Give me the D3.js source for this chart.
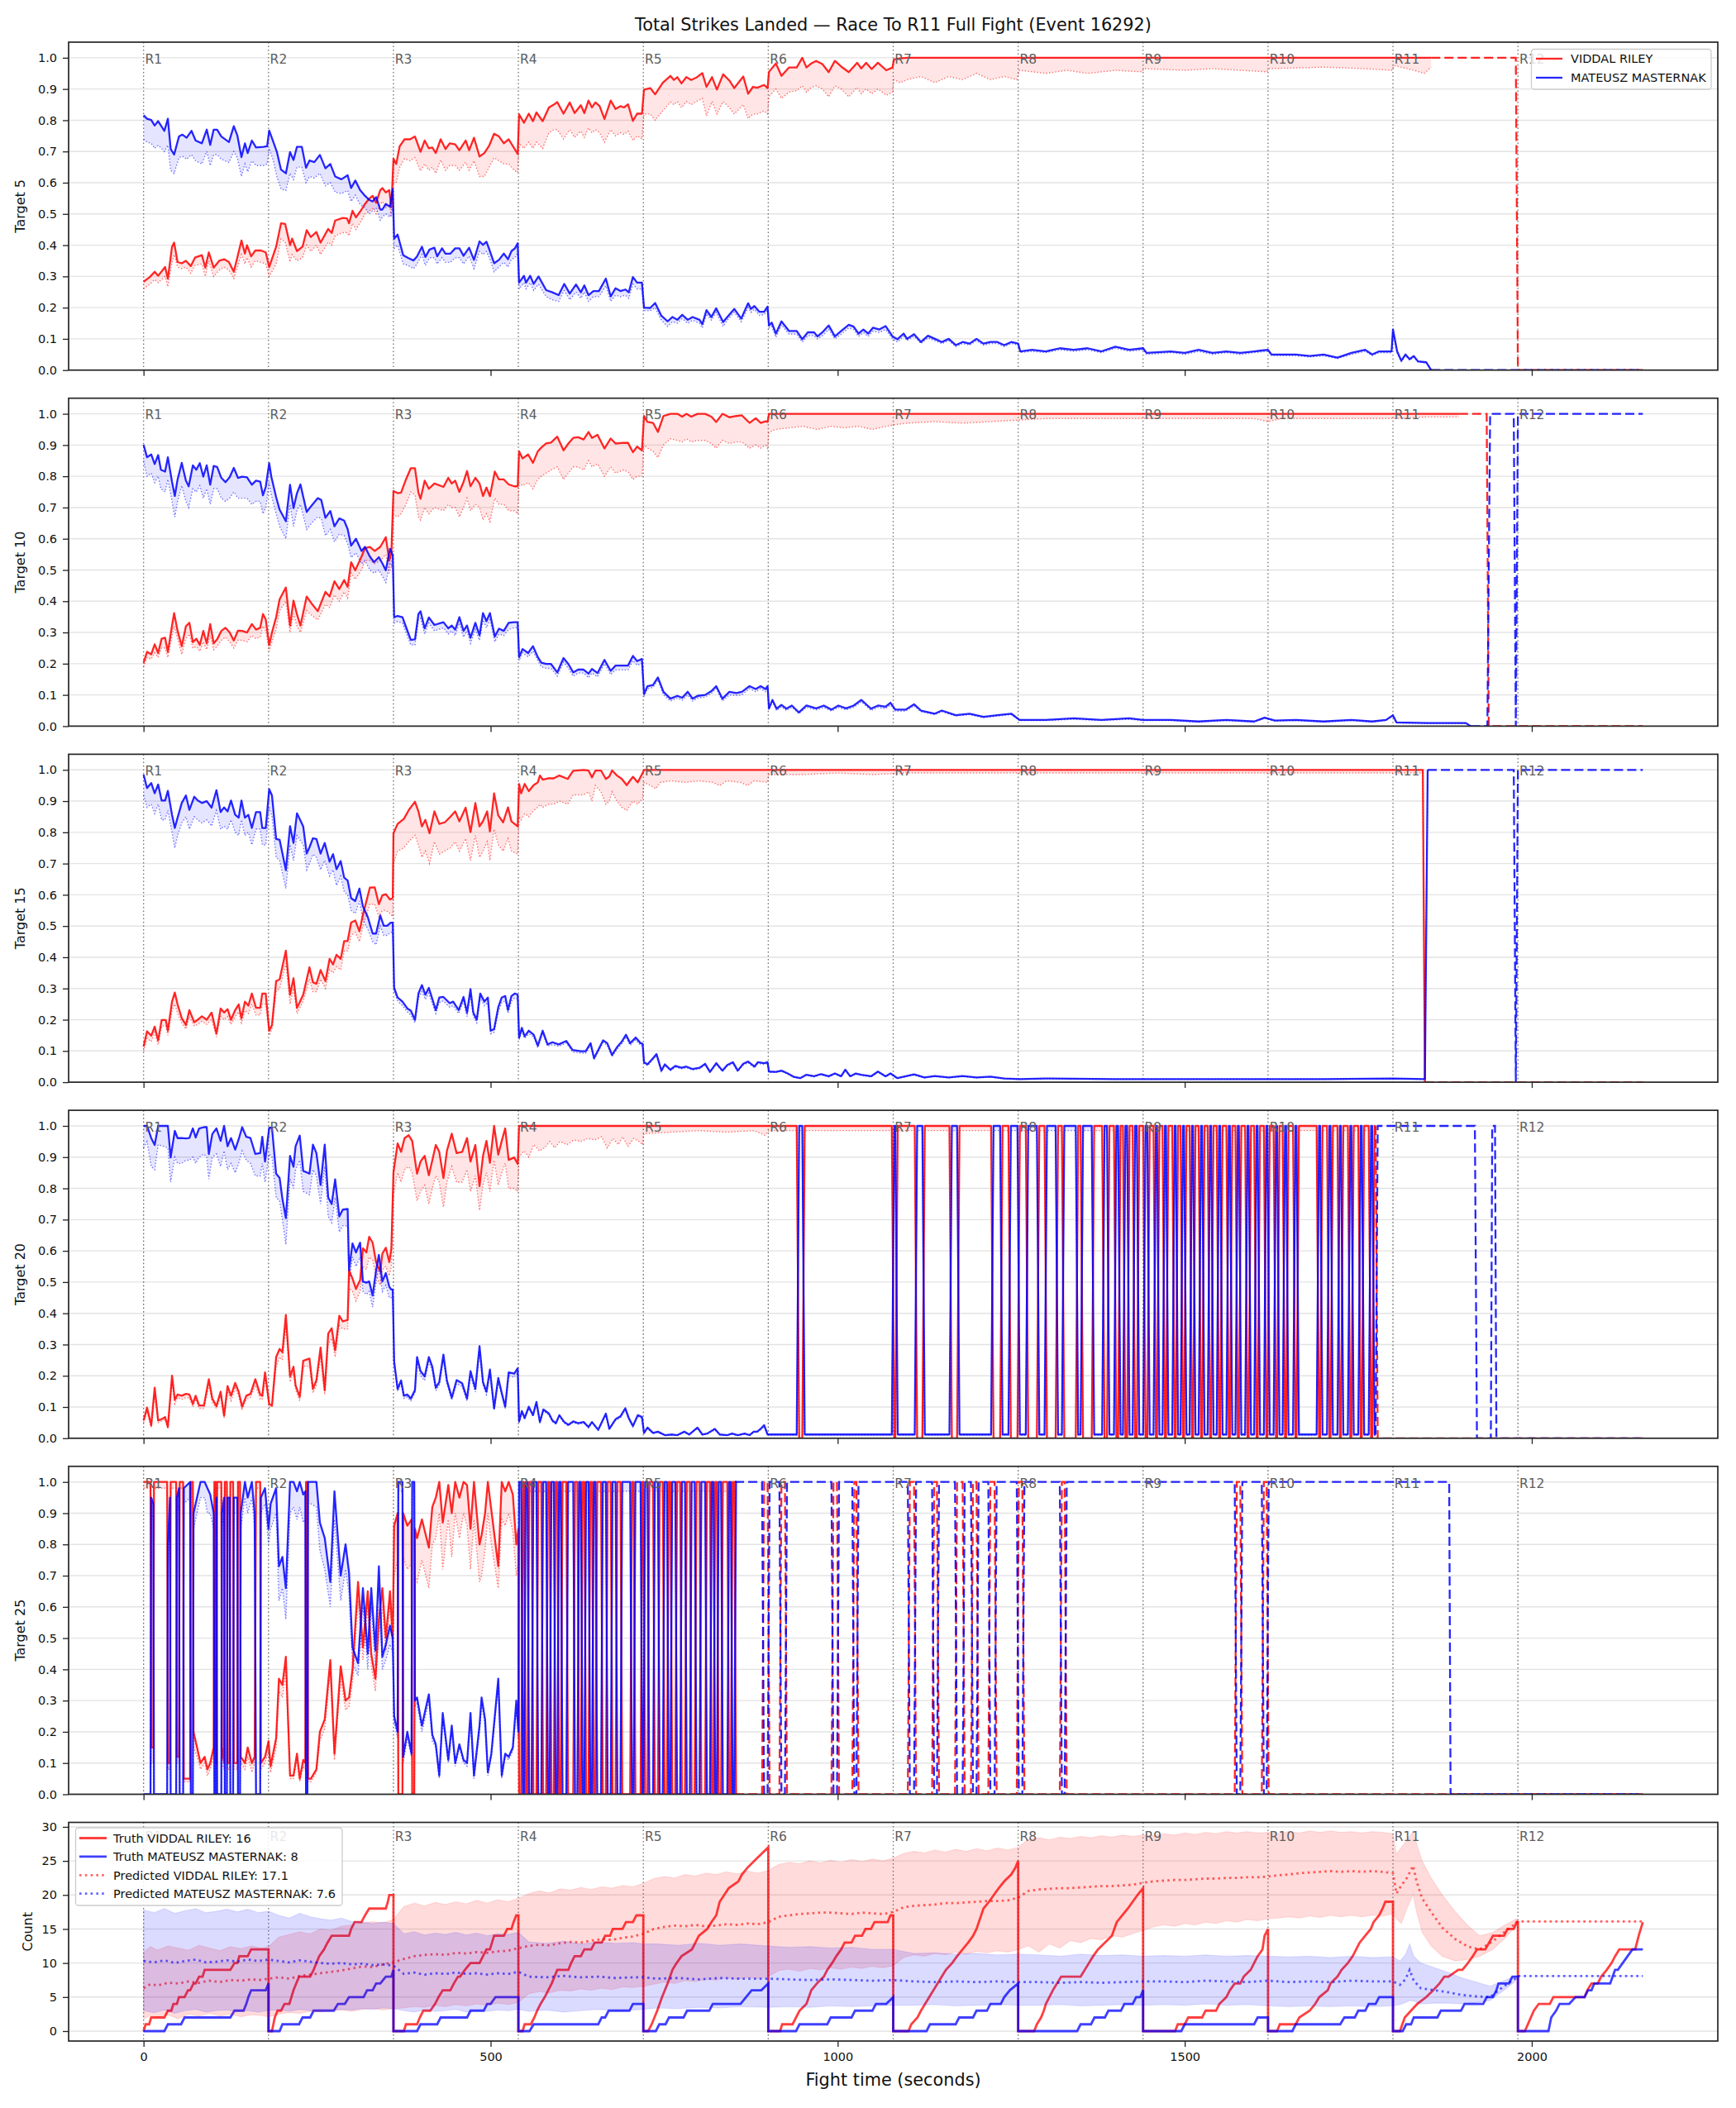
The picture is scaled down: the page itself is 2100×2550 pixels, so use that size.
<!DOCTYPE html>
<html>
<head>
<meta charset="utf-8">
<script src="https://cdn.jsdelivr.net/npm/d3@7/dist/d3.min.js"></script>
<style>
html,body{margin:0;padding:0;background:#fff;}
svg text{font-family:"DejaVu Sans",Verdana,sans-serif;}
</style>
</head>
<body>
<svg id="chart" width="2100" height="2550"></svg>
<script>
// ================= DATA =================
const chartTitle = "Total Strikes Landed — Race To R11 Full Fight (Event 16292)";
const fighters = ["VIDDAL RILEY", "MATEUSZ MASTERNAK"];
const targetLabels = ["Target 5", "Target 10", "Target 15", "Target 20", "Target 25"];
const roundStarts = [0,180,360,540,720,900,1080,1260,1440,1620,1800,1980];
const roundLabels = ["R1","R2","R3","R4","R5","R6","R7","R8","R9","R10","R11","R12"];
const xTicks = [0,500,1000,1500,2000];
const probTicks = [0,0.1,0.2,0.3,0.4,0.5,0.6,0.7,0.8,0.9,1.0];
const countTicks = [0,5,10,15,20,25,30];
const legendCount = ["Truth VIDDAL RILEY: 16","Truth MATEUSZ MASTERNAK: 8","Predicted VIDDAL RILEY: 17.1","Predicted MATEUSZ MASTERNAK: 7.6"];

// Probability series: [time, solid value, dotted value]
const p1Red = [[0,.283,.26],[9,.298,.275],[16,.315,.29],[21,.302,.28],[31,.33,.3],[35,.293,.267],[41,.395,.346],[44,.408,.37],[49,.346,.33],[55,.342,.325],[61,.35,.33],[68,.333,.31],[74,.36,.335],[84,.368,.34],[89,.328,.3],[94,.377,.35],[101,.328,.3],[109,.35,.32],[116,.355,.33],[123,.346,.32],[130,.315,.293],[141,.415,.37],[146,.373,.34],[149,.4,.36],[155,.364,.33],[161,.383,.35],[169,.383,.345],[176,.377,.34],[181,.33,.3],
[191,.395,.34],[198,.47,.42],[204,.468,.41],[211,.4,.346],[214,.421,.37],[221,.381,.35],[229,.395,.36],[235,.448,.4],[241,.426,.38],[249,.442,.4],[255,.408,.37],[266,.452,.41],[271,.439,.4],[276,.479,.43],[287,.487,.44],[293,.486,.44],[296,.47,.43],[301,.51,.47],[306,.489,.45],[314,.514,.48],[319,.532,.5],[325,.549,.51],[330,.558,.517],[335,.536,.5],[341,.576,.53],[344,.583,.54],[349,.569,.52],[354,.576,.53],[357,.521,.49],
[360,.677,.6],[364,.66,.6],[369,.717,.65],[376,.739,.677],[384,.739,.67],[391,.748,.68],[399,.699,.638],[405,.735,.66],[411,.71,.64],[416,.713,.65],[421,.695,.63],[428,.739,.673],[435,.708,.64],[441,.726,.655],[449,.723,.655],[455,.704,.64],[464,.735,.665],[469,.704,.64],[476,.744,.67],[484,.684,.62],[491,.695,.62],[498,.719,.65],[505,.757,.68],[512,.748,.67],[519,.726,.66],[526,.739,.66],[534,.71,.64],[539,.692,.633],
[541,.819,.726],[548,.792,.71],[555,.821,.73],[561,.797,.71],[566,.825,.73],[575,.797,.71],[584,.841,.76],[591,.85,.77],[596,.858,.77],[605,.821,.74],[614,.857,.77],[621,.823,.745],[630,.848,.765],[635,.823,.745],[641,.863,.775],[646,.841,.76],[651,.857,.77],[657,.845,.76],[664,.804,.73],[673,.863,.77],[680,.836,.75],[687,.845,.76],[692,.841,.755],[698,.851,.765],[705,.798,.735],[711,.821,.75],[718,.821,.74],
[721,.898,.82],[730,.903,.82],[737,.883,.8],[748,.92,.83],[759,.942,.858],[764,.929,.85],[769,.938,.86],[775,.918,.84],[782,.938,.86],[789,.929,.85],[796,.936,.86],[805,.951,.87],[811,.907,.814],[819,.938,.86],[826,.898,.82],[835,.947,.86],[844,.927,.84],[851,.903,.82],[864,.94,.85],[871,.885,.805],[878,.907,.82],[884,.904,.82],[894,.913,.83],[899,.903,.82],
[901,.955,.876],[911,.982,.9],[919,.942,.87],[930,.969,.89],[941,.969,.895],[949,1,.91],[955,.969,.89],[962,.982,.905],[969,.99,.91],[978,.98,.9],[987,.954,.875],[996,.99,.91],[1005,.972,.9],[1016,.954,.875],[1028,.984,.905],[1034,.966,.885],[1041,.984,.9],[1049,.964,.885],[1058,.984,.9],[1070,.96,.88],[1079,.969,.89],
[1081,.995,.93],[1090,.998,.92],[1100,1,.93],[1120,1,.94],[1140,1,.92],[1160,1,.94],[1180,1,.93],[1200,1,.95],[1220,1,.93],[1240,1,.94],[1258,1,.93],[1262,1,.96],[1300,1,.95],[1330,1,.96],[1360,1,.95],[1400,1,.96],[1438,1,.955],[1442,1,.965],[1500,1,.96],[1540,1,.965],[1580,1,.96],[1618,1,.955],[1622,1,.965],[1700,1,.97],[1760,1,.965],[1798,1,.96],[1802,1,.975],[1830,1,.96],[1845,1,.95],[1855,1,.97]];
const p1Blue = [[0,.816,.739],[5,.805,.73],[11,.801,.726],[16,.783,.71],[21,.797,.72],[30,.766,.7],[35,.805,.72],[39,.708,.64],[44,.69,.63],[51,.748,.68],[56,.754,.685],[62,.744,.675],[69,.766,.69],[75,.735,.67],[84,.726,.66],[91,.77,.7],[96,.721,.655],[101,.77,.69],[106,.77,.69],[112,.748,.675],[123,.73,.665],[130,.781,.7],[135,.752,.68],[141,.682,.62],[146,.726,.66],[150,.695,.635],[156,.735,.67],[162,.713,.655],[173,.715,.655],[178,.717,.66],
[181,.767,.71],[187,.73,.67],[192,.699,.62],[198,.642,.58],[205,.63,.575],[211,.698,.63],[216,.673,.61],[221,.715,.65],[228,.715,.65],[234,.648,.6],[239,.671,.62],[246,.666,.615],[254,.689,.63],[262,.646,.59],[269,.66,.6],[276,.62,.57],[285,.611,.565],[294,.624,.575],[299,.583,.54],[305,.607,.56],[312,.576,.53],[319,.558,.52],[325,.545,.5],[330,.54,.51],[335,.554,.52],[341,.514,.48],[344,.514,.49],[349,.532,.5],[355,.523,.49],[359,.58,.52],
[361,.421,.39],[366,.434,.4],[374,.368,.34],[381,.359,.335],[389,.351,.325],[394,.364,.34],[401,.395,.37],[406,.362,.335],[412,.386,.36],[419,.392,.36],[423,.364,.34],[430,.39,.36],[435,.373,.345],[442,.373,.345],[449,.39,.36],[455,.39,.36],[461,.366,.34],[469,.392,.365],[476,.353,.325],[484,.412,.38],[489,.401,.37],[494,.411,.38],[499,.381,.355],[505,.342,.315],[512,.353,.33],[519,.373,.345],[525,.355,.33],[530,.381,.355],[535,.39,.36],[539,.406,.375],
[541,.28,.26],[548,.302,.28],[551,.28,.26],[557,.302,.28],[562,.276,.255],[569,.3,.275],[580,.256,.235],[589,.249,.225],[598,.24,.22],[606,.276,.255],[614,.245,.225],[623,.274,.25],[630,.249,.23],[635,.271,.25],[641,.24,.22],[648,.253,.235],[656,.253,.235],[666,.293,.27],[673,.236,.22],[680,.262,.24],[687,.253,.235],[694,.258,.24],[699,.249,.23],[705,.298,.275],[711,.28,.26],[718,.28,.26],
[721,.2,.19],[730,.199,.19],[737,.215,.2],[746,.174,.16],[755,.156,.14],[762,.17,.155],[769,.161,.15],[776,.177,.165],[784,.161,.15],[791,.17,.16],[801,.161,.15],[805,.147,.135],[811,.192,.18],[818,.17,.16],[825,.198,.185],[835,.154,.14],[841,.17,.16],[851,.196,.185],[861,.165,.155],[871,.214,.2],[875,.196,.185],[880,.205,.195],[887,.187,.175],[894,.187,.178],[899,.203,.19],
[901,.143,.135],[905,.152,.14],[911,.117,.105],[919,.156,.145],[930,.125,.115],[941,.125,.115],[949,.099,.09],[957,.121,.11],[966,.121,.11],[971,.108,.1],[978,.121,.11],[987,.143,.13],[996,.108,.1],[1005,.125,.115],[1016,.145,.135],[1023,.139,.13],[1030,.117,.108],[1037,.13,.12],[1044,.117,.108],[1051,.136,.125],[1060,.13,.12],[1069,.141,.13],[1079,.108,.1],[1086,.099,.09],[1095,.117,.108],
[1100,.1,.095],[1110,.115,.108],[1120,.09,.085],[1130,.11,.103],[1140,.1,.094],[1150,.09,.085],[1160,.1,.094],[1170,.08,.075],[1180,.09,.085],[1190,.085,.08],[1200,.1,.094],[1210,.085,.08],[1220,.09,.085],[1230,.09,.085],[1240,.08,.075],[1250,.09,.085],[1260,.085,.08],[1263,.06,.056],[1280,.065,.06],[1300,.06,.056],[1320,.07,.065],[1340,.065,.06],[1360,.07,.065],[1380,.06,.056],[1400,.075,.07],[1420,.065,.06],[1440,.07,.065],[1445,.055,.05],[1480,.06,.056],[1500,.055,.05],[1520,.065,.06],[1540,.055,.05],[1560,.06,.056],[1580,.055,.05],[1600,.06,.056],[1620,.065,.06],[1625,.05,.046],[1660,.05,.046],[1680,.045,.042],[1700,.05,.046],[1720,.04,.037],[1740,.055,.05],[1760,.065,.06],[1770,.05,.046],[1780,.06,.056],[1798,.06,.055],[1800,.13,.12],[1806,.06,.055],[1812,.03,.028],[1818,.05,.046],[1824,.035,.032],[1830,.045,.042],[1836,.028,.026],[1848,.025,.023],[1855,0,0]];
const p1RedDash = [[1855,1],[1977,1],[1980,0],[2160,0]];
const p1BlueDash = [[1855,0],[2160,0]];

const p2Red = [[0,.203,.19],[5,.238,.22],[11,.23,.215],[16,.262,.235],[21,.234,.22],[26,.28,.25],[31,.283,.25],[35,.238,.22],[41,.322,.29],[44,.362,.32],[49,.305,.28],[55,.256,.23],[61,.32,.28],[66,.331,.295],[71,.269,.25],[76,.28,.255],[81,.26,.24],[86,.305,.27],[91,.265,.245],[96,.327,.29],[101,.265,.245],[106,.278,.255],[112,.305,.275],[118,.315,.285],[124,.3,.27],[130,.274,.25],[136,.306,.275],[142,.305,.275],[149,.3,.27],[156,.327,.29],[162,.309,.28],[168,.315,.285],[172,.359,.32],[176,.342,.305],[181,.26,.24],
[185,.3,.27],[191,.349,.31],[196,.406,.37],[205,.444,.4],[211,.322,.3],[216,.402,.36],[221,.358,.32],[226,.322,.3],[235,.415,.37],[242,.393,.355],[251,.368,.34],[262,.43,.39],[268,.415,.38],[275,.464,.42],[282,.439,.4],[289,.468,.43],[294,.446,.41],[299,.525,.49],[305,.499,.47],[314,.543,.5],[319,.57,.53],[326,.574,.53],[333,.561,.52],[341,.574,.53],[349,.605,.55],[354,.53,.49],[357,.556,.51],
[360,.753,.676],[366,.746,.67],[371,.748,.68],[378,.79,.71],[385,.826,.75],[391,.826,.74],[396,.748,.67],[399,.728,.66],[405,.786,.7],[411,.76,.68],[419,.777,.7],[432,.766,.69],[439,.795,.71],[444,.777,.7],[449,.786,.7],[455,.75,.67],[461,.782,.7],[466,.817,.73],[471,.768,.69],[478,.795,.71],[484,.777,.7],[489,.737,.66],[494,.764,.68],[499,.736,.655],[506,.815,.73],[512,.79,.71],[519,.79,.71],[526,.774,.69],[534,.768,.69],[539,.768,.68],
[541,.88,.78],[546,.857,.77],[554,.87,.78],[561,.843,.76],[568,.88,.79],[573,.892,.8],[580,.905,.81],[587,.908,.82],[596,.927,.83],[605,.883,.79],[612,.905,.81],[619,.923,.83],[626,.925,.83],[634,.918,.82],[641,.942,.85],[646,.923,.83],[654,.933,.84],[664,.889,.8],[673,.921,.83],[680,.905,.81],[691,.907,.82],[698,.907,.815],[705,.877,.79],[711,.895,.8],[718,.883,.8],
[721,.993,.9],[726,.974,.89],[734,.971,.88],[741,.942,.86],[749,.993,.9],[759,1,.92],[769,1,.915],[776,.991,.91],[782,1,.92],[789,.991,.91],[798,1,.915],[809,1,.915],[818,.991,.905],[825,.974,.89],[834,1,.915],[844,.989,.905],[854,.993,.91],[862,.995,.91],[873,.971,.89],[882,.986,.9],[889,.971,.89],[896,.976,.9],[899,.974,.89],
[901,1,.94],[910,1,.95],[930,1,.955],[950,1,.96],[970,1,.95],[990,1,.96],[1010,1,.955],[1030,1,.96],[1050,1,.95],[1070,1,.96],[1082,1,.965],[1100,1,.97],[1140,1,.975],[1180,1,.97],[1220,1,.975],[1262,1,.98],[1300,1,.985],[1400,1,.985],[1500,1,.985],[1600,1,.985],[1620,1,.975],[1640,1,.985],[1700,1,.985],[1800,1,.985],[1850,1,.99],[1895,1,.99]];
const p2Blue = [[0,.901,.85],[5,.861,.8],[11,.87,.81],[16,.839,.78],[21,.868,.8],[25,.821,.76],[31,.815,.75],[35,.861,.79],[41,.782,.72],[45,.737,.67],[49,.79,.72],[55,.843,.77],[61,.786,.72],[65,.768,.7],[71,.835,.76],[76,.821,.75],[81,.842,.77],[86,.799,.73],[91,.835,.76],[96,.773,.71],[101,.833,.76],[106,.83,.76],[112,.795,.73],[118,.781,.72],[124,.797,.73],[130,.827,.75],[136,.795,.73],[142,.799,.73],[149,.797,.73],[156,.773,.71],[162,.786,.72],[168,.783,.72],[172,.739,.68],[176,.766,.7],[181,.842,.78],
[184,.799,.74],[191,.733,.68],[196,.693,.64],[205,.656,.6],[211,.773,.71],[216,.698,.64],[221,.746,.69],[226,.774,.71],[235,.686,.63],[242,.706,.65],[251,.73,.67],[256,.724,.665],[262,.667,.61],[269,.689,.63],[275,.64,.59],[282,.665,.615],[289,.658,.61],[294,.631,.585],[299,.578,.54],[306,.6,.555],[314,.561,.52],[319,.574,.53],[326,.543,.5],[332,.525,.49],[339,.541,.5],[344,.521,.48],[349,.499,.46],[355,.568,.52],[359,.548,.51],
[361,.349,.33],[366,.353,.335],[373,.349,.33],[378,.318,.3],[385,.276,.26],[391,.278,.26],[396,.359,.34],[399,.368,.345],[405,.313,.295],[411,.348,.33],[419,.324,.305],[432,.333,.315],[439,.313,.295],[444,.322,.305],[449,.309,.29],[455,.349,.33],[461,.305,.285],[466,.322,.305],[471,.283,.265],[478,.331,.31],[484,.291,.275],[489,.362,.34],[494,.336,.315],[499,.362,.34],[506,.287,.27],[512,.312,.295],[519,.305,.29],[526,.331,.31],[534,.333,.315],[539,.333,.315],
[541,.221,.21],[546,.247,.235],[554,.234,.222],[561,.256,.24],[568,.221,.21],[573,.203,.19],[580,.199,.185],[587,.199,.185],[596,.172,.16],[605,.218,.205],[612,.199,.185],[619,.172,.16],[626,.181,.17],[634,.181,.17],[641,.168,.155],[646,.183,.17],[654,.17,.158],[664,.212,.2],[673,.177,.165],[680,.194,.18],[691,.194,.18],[698,.194,.18],[705,.225,.21],[711,.208,.195],[718,.215,.2],
[721,.103,.095],[726,.128,.12],[734,.132,.124],[741,.156,.148],[749,.11,.1],[759,.088,.08],[769,.097,.09],[776,.091,.083],[784,.11,.1],[791,.088,.08],[798,.097,.09],[809,.1,.093],[818,.112,.105],[825,.128,.12],[834,.088,.08],[844,.11,.1],[854,.106,.098],[862,.11,.1],[873,.128,.12],[882,.119,.11],[889,.128,.12],[896,.119,.11],[899,.128,.12],
[901,.057,.052],[906,.084,.078],[912,.056,.05],[919,.068,.062],[926,.056,.05],[934,.066,.06],[944,.044,.04],[955,.066,.06],[969,.057,.052],[980,.066,.06],[991,.053,.048],[1001,.066,.06],[1012,.057,.052],[1023,.066,.06],[1034,.084,.078],[1048,.056,.05],[1058,.066,.06],[1069,.062,.056],[1076,.075,.068],[1083,.053,.048],[1098,.053,.048],
[1110,.07,.065],[1120,.05,.046],[1140,.04,.037],[1150,.05,.046],[1170,.035,.032],[1190,.04,.037],[1210,.03,.027],[1230,.035,.032],[1250,.04,.037],[1262,.02,.018],[1300,.02,.018],[1340,.025,.022],[1380,.02,.018],[1420,.025,.022],[1440,.02,.018],[1480,.02,.018],[1520,.015,.013],[1560,.02,.018],[1600,.015,.013],[1615,.027,.025],[1630,.018,.016],[1660,.02,.018],[1700,.015,.013],[1740,.02,.018],[1770,.015,.013],[1790,.02,.018],[1800,.035,.032],[1805,.012,.01],[1850,.01,.009],[1905,.01,.009],[1912,0,0]];
const p2RedDash = [[1895,1],[1935,1],[1938,0],[2160,0]];
const p2BlueDash = [[1912,0],[1936,0],[1940,1],[1974,1],[1977,0],[1980,1],[2160,1]];

const p3Red = [[0,.114,.1],[5,.163,.14],[11,.149,.13],[16,.178,.16],[21,.134,.12],[26,.199,.18],[32,.199,.18],[35,.165,.15],[41,.258,.23],[45,.287,.25],[49,.249,.22],[55,.205,.19],[61,.183,.17],[66,.231,.21],[73,.192,.18],[78,.2,.185],[84,.211,.195],[91,.2,.185],[98,.223,.2],[105,.156,.145],[111,.236,.21],[116,.223,.2],[121,.234,.21],[126,.2,.185],[132,.231,.21],[137,.249,.225],[141,.205,.19],[146,.258,.23],[151,.245,.22],[156,.284,.25],[162,.238,.215],[168,.238,.215],[171,.284,.25],[176,.284,.25],[181,.165,.15],
[185,.183,.17],[191,.324,.29],[196,.329,.3],[205,.421,.38],[211,.28,.25],[216,.333,.3],[221,.238,.22],[230,.28,.26],[239,.368,.33],[244,.32,.29],[249,.315,.29],[255,.359,.33],[262,.324,.3],[268,.395,.36],[273,.377,.35],[278,.408,.37],[284,.395,.36],[289,.452,.42],[294,.452,.42],[299,.511,.47],[305,.518,.48],[311,.483,.45],[316,.536,.5],[326,.623,.57],[333,.624,.57],[339,.57,.53],[344,.598,.55],[349,.602,.55],[355,.585,.54],[359,.59,.53],
[360,.797,.7],[366,.827,.74],[375,.843,.75],[382,.871,.77],[391,.898,.79],[396,.867,.76],[401,.819,.72],[406,.84,.74],[412,.797,.7],[419,.867,.77],[426,.827,.73],[434,.832,.74],[442,.85,.75],[449,.867,.77],[455,.835,.74],[464,.879,.78],[471,.801,.71],[478,.894,.79],[484,.819,.72],[489,.836,.74],[495,.867,.77],[499,.803,.71],[505,.925,.81],[511,.854,.76],[518,.832,.74],[525,.88,.78],[530,.835,.74],[539,.819,.73],
[541,.955,.85],[544,.925,.84],[549,.955,.86],[555,.932,.85],[562,.951,.87],[568,.96,.88],[571,.982,.89],[575,.969,.88],[584,.973,.89],[591,.973,.89],[599,.982,.9],[611,.971,.89],[619,.997,.92],[634,1,.92],[641,.998,.93],[646,.976,.9],[651,.998,.95],[659,.998,.93],[666,.971,.89],[671,.979,.9],[675,.998,.93],[682,.982,.9],[689,.971,.88],[696,.951,.87],[705,.978,.9],[712,.96,.89],[719,.99,.91],
[721,1,.96],[730,1,.95],[738,1,.94],[745,1,.96],[760,1,.965],[780,1,.96],[800,1,.965],[820,1,.96],[830,1,.95],[840,1,.965],[860,1,.96],[870,1,.95],[880,1,.965],[899,1,.96],
[901,1,.985],[950,1,.985],[1000,1,.99],[1050,1,.985],[1100,1,.99],[1200,1,.99],[1300,1,.99],[1400,1,.99],[1500,1,.99],[1600,1,.99],[1700,1,.99],[1800,1,.99],[1843,1,.99],[1846,0,0]];
const p3Blue = [[0,.985,.92],[5,.942,.88],[11,.958,.89],[16,.925,.86],[21,.953,.89],[26,.902,.84],[31,.902,.84],[35,.933,.87],[41,.856,.8],[45,.814,.75],[49,.847,.79],[55,.894,.83],[61,.918,.85],[66,.872,.81],[73,.914,.85],[78,.902,.84],[84,.894,.83],[91,.9,.84],[98,.879,.82],[105,.935,.87],[111,.865,.81],[116,.88,.82],[121,.867,.81],[126,.902,.84],[132,.856,.8],[137,.847,.79],[141,.902,.84],[146,.847,.79],[151,.856,.8],[156,.814,.76],[162,.865,.81],[168,.865,.81],[171,.814,.76],[176,.814,.76],[181,.938,.88],
[185,.918,.85],[191,.779,.72],[196,.776,.71],[205,.679,.62],[211,.82,.76],[216,.766,.71],[221,.861,.79],[230,.819,.76],[235,.732,.68],[239,.752,.7],[244,.781,.73],[249,.779,.72],[255,.732,.68],[261,.766,.71],[268,.706,.66],[273,.73,.68],[278,.682,.63],[284,.708,.66],[289,.655,.61],[294,.646,.6],[299,.589,.55],[305,.58,.54],[311,.62,.58],[316,.563,.52],[323,.529,.49],[330,.476,.45],[335,.476,.44],[341,.534,.5],[346,.501,.47],[351,.501,.47],[356,.511,.48],[359,.511,.48],
[361,.302,.29],[366,.271,.26],[373,.258,.245],[380,.236,.225],[385,.229,.215],[391,.2,.19],[396,.284,.27],[401,.311,.29],[406,.28,.265],[411,.302,.285],[416,.267,.25],[421,.231,.22],[426,.271,.255],[432,.273,.26],[441,.253,.24],[446,.258,.245],[454,.231,.22],[461,.273,.26],[466,.223,.21],[471,.298,.28],[475,.223,.21],[480,.2,.19],[485,.284,.27],[491,.258,.245],[496,.271,.255],[500,.165,.155],[505,.17,.16],[511,.24,.225],[516,.271,.255],[521,.276,.26],[525,.231,.22],[530,.276,.26],[535,.284,.27],[539,.28,.265],
[541,.143,.135],[545,.174,.165],[549,.147,.14],[555,.165,.155],[562,.152,.145],[568,.117,.11],[575,.165,.155],[582,.121,.115],[589,.128,.12],[598,.121,.115],[609,.132,.125],[618,.103,.097],[630,.099,.093],[637,.099,.093],[644,.125,.118],[649,.077,.072],[655,.103,.097],[662,.134,.127],[668,.125,.118],[675,.087,.082],[682,.112,.105],[689,.13,.123],[695,.152,.145],[701,.125,.118],[709,.143,.135],[716,.125,.118],[719,.123,.116],
[721,.064,.06],[726,.057,.053],[732,.072,.068],[739,.09,.085],[746,.037,.034],[751,.057,.053],[759,.04,.037],[766,.052,.048],[775,.046,.043],[782,.05,.046],[791,.042,.039],[801,.046,.043],[809,.059,.055],[816,.033,.03],[825,.061,.057],[834,.037,.034],[841,.055,.051],[849,.064,.06],[856,.037,.034],[864,.059,.055],[871,.066,.062],[880,.05,.046],[885,.064,.06],[894,.061,.057],[899,.064,.06],
[901,.034,.032],[911,.033,.031],[919,.037,.035],[928,.028,.026],[937,.017,.015],[946,.013,.012],[955,.024,.022],[966,.019,.017],[976,.026,.024],[987,.019,.017],[996,.028,.026],[1005,.019,.017],[1011,.04,.037],[1018,.019,.017],[1026,.028,.026],[1034,.024,.022],[1048,.019,.017],[1058,.034,.032],[1069,.019,.017],[1076,.028,.026],[1086,.013,.012],[1098,.019,.017],
[1110,.025,.023],[1125,.015,.014],[1140,.02,.018],[1160,.015,.014],[1180,.02,.018],[1200,.015,.014],[1220,.018,.016],[1240,.012,.011],[1262,.01,.009],[1300,.012,.011],[1400,.01,.009],[1500,.01,.009],[1600,.01,.009],[1700,.01,.009],[1800,.012,.011],[1846,.01,.009],[1850,1,1]];
const p3RedDash = [[1846,0],[2160,0]];
const p3BlueDash = [[1850,1],[1974,1],[1977,0],[1980,1],[2160,1]];

const p4Red = [[0,.057,.05],[5,.098,.085],[11,.041,.035],[16,.162,.14],[21,.057,.05],[26,.061,.055],[31,.068,.06],[35,.036,.03],[41,.2,.18],[45,.123,.11],[49,.14,.13],[55,.136,.125],[61,.142,.13],[66,.14,.13],[71,.11,.1],[75,.136,.125],[80,.105,.095],[87,.105,.095],[94,.189,.17],[99,.127,.115],[105,.103,.095],[111,.149,.135],[116,.072,.065],[121,.167,.15],[126,.136,.12],[132,.177,.16],[137,.149,.135],[142,.101,.09],[148,.136,.125],[154,.142,.13],[161,.189,.17],[168,.14,.125],[171,.136,.125],[175,.211,.19],[181,.11,.1],
[185,.105,.1],[191,.26,.23],[196,.286,.26],[200,.275,.25],[205,.395,.36],[211,.198,.18],[216,.229,.21],[219,.169,.155],[225,.133,.12],[230,.248,.23],[239,.255,.23],[244,.158,.145],[249,.186,.17],[255,.29,.26],[261,.154,.14],[266,.335,.3],[271,.352,.32],[276,.282,.26],[282,.392,.36],[287,.374,.35],[294,.379,.35],[296,.538,.48],[301,.511,.47],[306,.478,.44],[312,.507,.47],[316,.608,.55],[321,.595,.54],[325,.645,.58],[330,.626,.57],[335,.564,.52],[341,.533,.49],[344,.591,.54],[349,.61,.55],[354,.564,.52],[357,.608,.55],
[360,.851,.78],[366,.944,.85],[371,.917,.82],[376,.961,.86],[382,.97,.87],[387,.952,.85],[394,.847,.76],[399,.886,.79],[405,.904,.81],[411,.842,.75],[416,.89,.8],[421,.939,.84],[426,.917,.82],[432,.833,.74],[437,.92,.82],[444,.975,.87],[451,.913,.82],[459,.917,.82],[466,.961,.86],[471,.886,.79],[478,.939,.84],[484,.807,.73],[489,.904,.81],[494,.952,.85],[499,.882,.79],[505,1,.89],[511,.908,.81],[516,.952,.85],[521,.992,.88],[526,.891,.8],[534,.899,.8],[539,.878,.79],
[541,1,.9],[548,1,.92],[555,1,.9],[562,1,.94],[570,1,.92],[578,1,.93],[585,1,.95],[592,1,.93],[600,1,.95],[610,1,.94],[620,1,.955],[630,1,.95],[640,1,.96],[650,1,.955],[660,1,.965],[668,1,.93],[676,1,.96],[684,1,.94],[690,1,.965],[698,1,.935],[706,1,.96],[714,1,.95],[719,1,.94],
[721,1,.975],[760,1,.98],[800,1,.985],[840,1,.98],[880,1,.985],[895,1,.97],[899,1,.98]];
const p4Blue = [[0,1,.93],[5,1,.95],[11,.961,.87],[16,.939,.86],[21,1,.94],[35,1,.93],[39,.899,.82],[45,.984,.9],[49,.961,.88],[55,.961,.88],[61,.96,.89],[66,.961,.89],[71,.992,.9],[75,.963,.88],[80,.992,.9],[87,.996,.91],[91,.996,.9],[94,.91,.83],[99,.974,.9],[105,.992,.91],[111,.952,.87],[116,1,.92],[121,.935,.86],[126,.961,.88],[132,.924,.85],[137,.957,.88],[142,.996,.92],[148,.965,.89],[154,.961,.88],[161,.91,.84],[168,.913,.84],[171,.965,.88],[175,.886,.82],[181,.994,.91],
[185,.994,.9],[191,.847,.77],[196,.833,.76],[200,.767,.7],[205,.705,.62],[211,.904,.83],[216,.869,.8],[219,.935,.86],[225,.969,.89],[230,.856,.79],[239,.847,.78],[244,.94,.86],[249,.913,.84],[255,.811,.75],[261,.94,.87],[266,.771,.71],[271,.75,.69],[276,.829,.77],[282,.71,.66],[287,.732,.68],[294,.734,.68],[296,.538,.5],[301,.624,.58],[306,.595,.55],[312,.626,.58],[316,.502,.47],[321,.498,.46],[325,.502,.47],[330,.457,.42],[335,.538,.5],[339,.587,.55],[344,.502,.47],[349,.529,.49],[354,.485,.45],[357,.476,.45],[359,.476,.45],
[361,.246,.235],[366,.158,.15],[371,.185,.175],[375,.136,.128],[380,.14,.132],[385,.127,.12],[391,.154,.145],[394,.26,.245],[399,.215,.2],[405,.198,.185],[411,.26,.245],[416,.229,.215],[421,.162,.152],[426,.18,.17],[432,.268,.25],[437,.185,.175],[444,.13,.122],[451,.186,.175],[459,.176,.165],[466,.127,.12],[471,.215,.2],[478,.158,.148],[484,.295,.28],[489,.18,.17],[494,.149,.14],[499,.22,.205],[505,.096,.09],[511,.193,.18],[516,.145,.137],[521,.101,.095],[526,.211,.2],[534,.207,.195],[539,.224,.21],
[541,.054,.05],[545,.087,.082],[549,.065,.06],[555,.101,.095],[561,.074,.07],[566,.116,.11],[571,.052,.048],[576,.092,.087],[584,.079,.074],[589,.057,.053],[594,.048,.045],[599,.074,.07],[606,.052,.048],[612,.043,.04],[619,.054,.05],[626,.048,.045],[634,.052,.048],[641,.036,.033],[646,.052,.048],[655,.027,.025],[666,.079,.074],[671,.03,.028],[680,.061,.057],[687,.07,.065],[694,.096,.09],[699,.065,.06],[705,.039,.036],[712,.074,.07],[718,.068,.063],
[721,.017,.015],[726,.034,.031],[734,.017,.015],[741,.021,.019],[751,.01,.009],[762,.012,.011],[769,.01,.009],[779,.021,.019],[786,.012,.011],[798,.034,.031],[805,.012,.011],[812,.015,.013],[823,.03,.027],[830,.012,.011],[841,.01,.009],[848,.015,.013],[856,.01,.009],[866,.015,.013],[873,.01,.009],[879,.021,.019],[884,.021,.019],[889,.03,.027],[894,.042,.038],[899,.012,.011]];
// intervals in which MASTERNAK's line sits at 1 and RILEY's at 0 (Target 20)
const p4Flips = [[941,949],[1078,1083],[1111,1122],[1161,1172],[1221,1234],[1246,1259],[1271,1287],[1298,1314],[1323,1343],[1350,1366],[1381,1388],[1398,1404],[1411,1417],[1425,1431],[1440,1446],[1455,1460],[1468,1473],[1482,1487],[1494,1499],[1507,1512],[1520,1525],[1533,1538],[1546,1551],[1560,1565],[1573,1578],[1587,1592],[1600,1605],[1614,1619],[1628,1633],[1641,1646],[1656,1661],[1690,1695],[1705,1710],[1720,1725],[1735,1740],[1750,1755],[1765,1770]];
const p4RedDash = [[1775,1],[1778,0],[2160,0]];
const p4BlueDash = [[1775,.012],[1778,1],[1918,1],[1921,0],[1941,0],[1943,1],[1947,1],[1949,0],[2160,0]];

const p5Red = [[0,1,.98],[10,1,.98],[11,.15,.1],[14,.15,.1],[15,1,.98],[34,1,.98],[35,.1,.08],[38,.1,.08],[39,1,.98],[47,1,.98],[48,.12,.1],[51,.12,.1],[52,1,.98],[57,1,.98],[58,.05,.04],[67,.05,.04],[68,1,.98],[71,1,.98],[72,.2,.15],[77,.15,.12],[82,.1,.08],[88,.12,.1],[92,.08,.06],[96,.1,.08],[101,.15,.12],[102,1,.98],[104,1,.98],[105,.1,.08],[106,1,.98],[112,1,.98],[113,.15,.1],[116,.1,.08],[117,1,.98],[120,1,.98],[121,.1,.08],[124,.1,.08],[125,1,.98],[129,1,.98],[130,.1,.08],[135,.1,.08],[136,1,.98],[139,1,.98],[140,.12,.1],[146,.1,.08],[150,.15,.12],[156,.1,.07],[160,.12,.1],[162,1,.98],[168,1,.98],[169,.1,.08],[175,.12,.1],[180,.17,.14],
[183,.09,.07],[191,.18,.15],[195,.37,.33],[200,.35,.31],[205,.44,.4],[211,.06,.05],[216,.06,.05],[221,.13,.11],[225,.05,.04],[230,.11,.09],[233,.1,.08],[234,1,.97],[236,1,.97],[237,.05,.04],[241,.05,.04],[249,.08,.07],[254,.2,.17],[261,.24,.21],[269,.43,.39],[275,.13,.11],[284,.41,.37],[291,.3,.27],[296,.31,.28],[301,.4,.36],[309,.68,.62],[316,.47,.43],[323,.65,.6],[328,.45,.41],[334,.37,.33],[339,.56,.51],[344,.66,.6],[349,.5,.46],[355,.65,.6],[359,.5,.46],
[361,.86,.7],[366,.9,.75],[367,0,0],[373,0,0],[374,.9,.76],[380,.86,.72],[386,.88,.74],[387,0,0],[390,0,0],[391,.85,.7],[394,.82,.68],[401,.88,.75],[411,.79,.66],[416,.92,.8],[421,.95,.82],[426,1,.9],[431,.87,.72],[439,.99,.88],[444,.9,.76],[449,1,.9],[455,.95,.82],[461,1,.9],[466,.99,.86],[471,.85,.72],[476,1,.88],[484,.8,.68],[487,.83,.7],[492,.9,.78],[496,1,.9],[501,.91,.8],[511,.73,.66],[516,1,.88],[521,.97,.86],[526,1,.9],[532,.96,.84],[537,.8,.7],[540,.85,.74]];
const p5Blue = [[0,0,0],[10,0,0],[11,.95,.9],[14,.93,.88],[15,0,0],[34,0,0],[35,.8,.7],[38,.95,.9],[39,0,0],[47,0,0],[48,.95,.9],[51,.98,.93],[52,0,0],[57,0,0],[58,.98,.93],[67,1,.95],[68,0,0],[71,0,0],[72,.9,.85],[77,.95,.9],[82,1,.95],[88,1,.95],[92,.98,.9],[96,.96,.9],[101,.9,.85],[102,0,0],[104,0,0],[105,.95,.9],[106,0,0],[112,0,0],[113,.9,.85],[116,.95,.9],[117,0,0],[120,0,0],[121,.95,.9],[124,.95,.9],[125,0,0],[129,0,0],[130,.95,.9],[135,.95,.9],[136,0,0],[139,0,0],[140,.9,.85],[146,1,.95],[150,.95,.9],[156,1,.95],[160,.9,.85],[162,0,0],[168,0,0],[169,.95,.9],[175,.98,.93],[180,.85,.8],
[183,.93,.85],[191,.98,.9],[195,.73,.62],[200,.76,.66],[205,.66,.56],[211,1,.9],[216,1,.92],[221,.97,.88],[225,1,.92],[230,.96,.87],[233,.97,.88],[234,0,0],[236,0,0],[237,1,.93],[241,1,.93],[249,1,.92],[254,.87,.78],[261,.82,.72],[269,.68,.6],[275,.97,.88],[284,.7,.62],[291,.8,.72],[296,.71,.64],[301,.47,.42],[309,.42,.38],[316,.66,.6],[323,.45,.4],[328,.66,.6],[334,.46,.41],[339,.73,.66],[344,.44,.4],[349,.48,.43],[355,.54,.48],[359,.5,.45],
[361,.25,.23],[366,.2,.18],[367,1,.97],[373,1,.97],[374,.12,.1],[380,.2,.18],[386,.13,.12],[387,1,.97],[390,1,.97],[391,.3,.28],[394,.31,.29],[401,.22,.2],[411,.32,.3],[416,.19,.17],[421,.16,.15],[426,.06,.05],[431,.26,.24],[439,.11,.1],[444,.22,.2],[449,.1,.09],[455,.16,.15],[461,.11,.1],[466,.1,.09],[471,.26,.24],[476,.06,.05],[484,.22,.2],[487,.31,.29],[492,.24,.22],[496,.07,.06],[501,.13,.12],[511,.37,.35],[516,.06,.05],[521,.13,.12],[526,.12,.11],[532,.15,.14],[537,.3,.28],[540,.2,.18]];
// switch times between the two leaders for Target 25, rounds 4-5
const p5Toggles = [544,548,553,559,566,573,580,585,591,596,601,609,619,625,630,635,641,646,651,659,666,673,680,687,701,706,716,720,726,734,741,748,754,759,766,773,780,787,794,801,809,816,821,826,832,841,846,851];
// intervals in which RILEY's dashed line sits at 1 (Target 25, after R5)
const p5LateFlips = [[891,899],[916,924],[991,999],[1021,1027],[1101,1110],[1136,1143],[1169,1180],[1192,1200],[1217,1226],[1258,1266],[1320,1327],[1572,1580],[1611,1618]];
const p5BlueDrop = 1881;

// Count panel: truth [time, count]
const truthRed = [[0,0],[3,1],[8,1],[11,2],[30,2],[35,3],[40,3],[43,4],[48,4],[51,5],[59,5],[64,6],[67,6],[72,7],[75,7],[80,8],[85,8],[88,9],[125,9],[131,10],[135,10],[138,11],[150,11],[155,12],[180,12],
[180,0],[185,0],[189,2],[193,3],[198,3],[203,4],[210,4],[213,5],[216,6],[220,7],[224,8],[240,8],[245,9],[249,10],[253,11],[260,12],[265,13],[271,14],[296,14],[299,15],[304,16],[314,16],[319,17],[325,18],[349,18],[352,19],[354,20],[360,20],
[360,0],[375,0],[378,1],[394,1],[398,2],[403,3],[413,3],[420,4],[425,5],[431,6],[442,6],[447,7],[453,8],[456,8],[463,9],[471,10],[484,10],[489,11],[494,12],[499,12],[502,13],[505,14],[519,14],[524,15],[530,15],[533,16],[537,17],[540,17],
[540,0],[546,0],[549,1],[558,1],[563,2],[567,3],[572,4],[578,5],[583,6],[588,7],[592,8],[596,9],[612,9],[616,10],[621,11],[630,11],[635,12],[645,12],[650,13],[660,13],[665,14],[672,14],[676,15],[690,15],[695,16],[705,16],[710,17],[720,17],
[720,0],[727,0],[732,1],[740,3],[747,5],[755,7],[762,9],[768,10],[775,11],[790,12],[800,14],[812,15],[818,16],[825,17],[830,19],[843,21],[857,22],[862,23],[870,24],[880,25],[890,26],[900,27],
[900,0],[917,0],[920,1],[935,1],[940,2],[945,3],[955,4],[962,6],[970,7],[980,8],[985,9],[992,10],[998,11],[1005,12],[1010,13],[1020,13],[1025,14],[1035,14],[1040,15],[1048,15],[1053,16],[1072,16],[1076,17],[1080,17],
[1080,0],[1102,0],[1106,1],[1115,2],[1120,3],[1126,4],[1132,5],[1138,6],[1144,7],[1150,8],[1156,9],[1165,10],[1172,11],[1180,12],[1188,13],[1195,14],[1200,15],[1210,18],[1218,19],[1225,20],[1232,21],[1240,22],[1250,23],[1256,24],[1260,25],
[1260,0],[1283,0],[1287,1],[1293,2],[1297,3],[1300,4],[1305,5],[1310,6],[1316,7],[1322,8],[1350,8],[1356,9],[1362,10],[1368,11],[1375,12],[1385,13],[1395,14],[1402,16],[1410,17],[1418,18],[1425,19],[1432,20],[1440,21],
[1440,0],[1486,0],[1490,1],[1500,1],[1505,2],[1525,2],[1530,3],[1545,3],[1550,4],[1560,5],[1565,6],[1572,7],[1580,7],[1585,8],[1595,9],[1600,10],[1605,11],[1612,12],[1615,14],[1620,15],
[1620,0],[1633,0],[1637,1],[1660,1],[1665,2],[1680,3],[1688,4],[1694,5],[1706,6],[1710,7],[1720,8],[1726,9],[1735,10],[1742,11],[1747,12],[1752,13],[1760,14],[1768,15],[1772,16],[1780,17],[1785,18],[1789,19],[1800,19],
[1800,0],[1810,0],[1817,2],[1826,3],[1835,4],[1848,5],[1858,6],[1867,7],[1874,8],[1880,8],[1894,9],[1900,9],[1908,10],[1915,11],[1921,12],[1933,12],[1944,14],[1960,14],[1965,15],[1974,15],[1978,16],[1980,16],
[1980,0],[1990,0],[2003,3],[2010,4],[2026,4],[2031,5],[2076,5],[2080,6],[2086,7],[2095,7],[2100,8],[2108,9],[2115,10],[2120,11],[2126,12],[2149,12],[2154,14],[2157,15],[2160,16]];
const truthBlue = [[0,0],[30,0],[35,1],[54,1],[59,2],[125,2],[131,3],[144,3],[148,4],[151,5],[155,6],[176,6],[180,7],
[180,0],[196,0],[200,1],[224,1],[229,2],[240,2],[245,3],[274,3],[280,4],[290,4],[296,5],[317,5],[322,6],[330,6],[335,7],[341,7],[349,8],[357,8],[360,9],
[360,0],[394,0],[399,1],[423,1],[428,2],[466,2],[471,3],[490,3],[495,4],[500,4],[507,5],[540,5],
[540,0],[556,0],[562,1],[655,1],[660,2],[665,2],[670,3],[700,3],[705,4],[720,4],
[720,0],[738,0],[743,1],[752,1],[757,2],[778,2],[783,3],[815,3],[820,4],[860,4],[868,5],[876,6],[890,6],[900,7],
[900,0],[940,0],[945,1],[985,1],[990,2],[1020,2],[1025,3],[1050,3],[1055,4],[1070,4],[1080,5],
[1080,0],[1128,0],[1133,1],[1170,1],[1175,2],[1195,2],[1200,3],[1215,3],[1220,4],[1235,4],[1240,5],[1248,6],[1260,7],
[1260,0],[1345,0],[1350,1],[1365,1],[1370,2],[1385,2],[1390,3],[1408,3],[1413,4],[1425,4],[1430,5],[1436,5],[1440,6],
[1440,0],[1495,0],[1500,1],[1600,1],[1605,2],[1620,2],
[1620,0],[1655,0],[1660,1],[1724,1],[1730,2],[1745,2],[1750,3],[1760,3],[1765,4],[1775,4],[1780,5],[1800,5],
[1800,0],[1814,0],[1819,1],[1826,1],[1830,2],[1864,2],[1869,3],[1898,3],[1903,4],[1930,4],[1935,5],[1944,5],[1949,6],[1952,7],[1967,7],[1972,8],[1980,8],
[1980,0],[2024,0],[2028,2],[2035,3],[2040,4],[2054,4],[2063,5],[2076,5],[2081,6],[2086,6],[2090,7],[2113,7],[2120,9],[2124,9],[2131,10],[2138,11],[2145,12],[2160,12]];
// Predicted: [time, mean, low, high]
const predRed = [[0,6.3,1.8,11.6],[10,6.9,2.3,12.4],[20,6.7,2,11.9],[35,7.1,2.4,12.5],[50,7,1.8,12.2],[65,7.3,2.5,11.9],[80,7.1,2.2,12.6],[95,7.4,2.6,12.2],[110,7.2,2.2,11.8],[125,7.5,2.5,12.4],[140,7.4,2.1,12.1],[155,7.6,2.4,12.5],[170,7.5,2.3,12.2],[180,7.7,2.1,12.4],
[195,7.9,2.5,13.8],[210,7.7,2.7,14.2],[225,8.1,2.6,14.6],[240,8.3,2.9,14.3],[255,8.5,2.8,15],[270,8.7,3,14.8],[285,8.9,3.1,15.4],[300,9.2,2.9,15.6],[315,9.5,3.2,15.9],[330,9.4,3.3,16.1],[345,9.8,3.1,15.9],[360,10.1,3.3,16.4],
[375,10.6,3.4,18.3],[390,11,3.6,18.8],[405,11.2,3.5,18.4],[420,11.3,3.8,18.9],[435,11.2,3.6,18.6],[450,11.5,3.9,19],[465,11.4,3.7,18.7],[480,11.6,4,19.2],[495,11.5,3.8,18.8],[510,11.7,4.1,19.3],[525,11.8,3.9,19],[540,12.2,4.2,19.5],
[555,12.5,5.5,20.2],[570,12.7,5.8,20.6],[585,12.6,5.6,20.3],[600,12.9,6,20.9],[615,13.1,5.9,20.7],[630,13,6.2,21.1],[645,13.3,6,20.8],[660,13.5,6.3,21.2],[675,13.4,6.1,21],[690,13.7,6.5,21.4],[705,13.9,6.4,21.2],[720,14.3,6.6,21.7],
[735,15,6.9,22.4],[750,15.3,7.2,22.7],[765,15.5,7,22.5],[780,15.4,7.4,23],[795,15.6,7.3,22.8],[810,15.4,7.6,23.2],[825,15.5,7.5,23],[840,15.7,7.8,23.4],[855,15.6,7.6,23.1],[870,15.8,7.9,23.5],[885,15.7,7.7,23.2],[900,16,8,23.6],
[915,16.8,8.9,24.5],[930,17,9.1,24.8],[945,17.2,8.8,24.6],[960,17.3,9.2,25],[975,17.4,9,24.7],[990,17.4,9.3,25.1],[1005,17.3,9.1,24.8],[1020,17.2,9.4,25.2],[1035,17.4,9.2,24.9],[1050,17.3,9.5,25.3],[1065,17.2,9.3,25],[1080,17.5,9.6,25.4],
[1095,18.2,10.8,26.1],[1110,18.4,11.2,26.4],[1125,18.5,11,26.2],[1140,18.6,11.4,26.6],[1155,18.8,11.2,26.3],[1170,18.8,11.6,26.7],[1185,18.9,11.3,26.4],[1200,19,11.7,26.8],[1215,19.1,11.5,26.5],[1230,19.1,11.8,26.9],[1245,19.2,11.6,26.6],[1260,19.6,12,27],
[1275,20.6,12.5,28.2],[1290,20.8,11.6,28.4],[1305,20.9,12.8,28.1],[1320,21,12.2,28.5],[1335,21,13.3,28.3],[1350,21.1,13,28.6],[1365,21.2,13.6,28.4],[1380,21.3,13.4,28.7],[1395,21.3,14,28.5],[1410,21.4,13.8,28.8],[1425,21.5,14.3,28.6],[1440,21.8,14.8,28.8],
[1455,22,15.3,28.7],[1470,22.1,15.6,29],[1485,22.2,15.4,28.8],[1500,22.2,15.8,29.1],[1515,22.3,15.6,28.9],[1530,22.4,16,29.2],[1545,22.4,15.8,29],[1560,22.5,16.2,29.3],[1575,22.5,16,29.1],[1590,22.6,16.4,29.3],[1605,22.6,16.2,29.1],[1620,22.7,16.5,29.2],
[1635,22.9,16.6,29],[1650,23,16.8,29.3],[1665,23.2,16.6,29.1],[1680,23.3,16.9,29.4],[1695,23.4,16.7,29.2],[1710,23.5,17,29.4],[1725,23.4,16.8,29.2],[1740,23.5,17,29.3],[1755,23.4,16.8,29.1],[1770,23.5,17,29.3],[1785,23.4,16.9,29.2],[1800,23.2,17.2,29],
[1805,20.2,16.5,26],[1812,21.4,15.8,27],[1820,22.5,18,28],[1829,24.3,20,29.4],[1834,22,17.5,27.5],[1842,19.5,14.5,25],[1855,17.5,12.5,22.5],[1871,15.2,11,20],[1890,13.5,10.3,17.5],[1908,12.4,10.5,15.5],[1925,12,11,14],[1944,13.2,12,14.5],[1960,14.5,13.5,15.5],[1978,15.9,15.5,16.5],[1980,16.1,16.1,16.1],[2160,16.1,16.1,16.1]];
const predBlue = [[0,10.3,3,17.8],[15,10.1,2.7,17.4],[30,10.4,3.1,18],[45,10,2.6,17.3],[60,10.3,3,17.7],[75,10.5,3.2,18],[90,10.1,2.8,17.4],[105,10.2,3,17.6],[120,10.4,3.1,17.9],[135,10.2,2.9,17.5],[150,10.5,3,17.9],[165,10.3,2.8,17.4],[180,10.5,3,17.6],
[195,10.3,3.1,17],[210,10.1,2.9,16.6],[225,10.4,3.2,17.3],[240,10.2,3,16.8],[255,10,3.1,16.5],[270,9.9,3,16.3],[285,10,3.2,16.6],[300,9.8,3.1,16.1],[315,9.9,3.3,16],[330,9.7,3.2,15.8],[345,9.8,3.4,16],[360,9.6,3.3,15.8],
[375,8.4,3,14.3],[390,8.6,2.8,14.6],[405,8.3,3.1,14.1],[420,8.5,2.9,14.4],[435,8.4,3,14.2],[450,8.6,3.2,14.5],[465,8.4,2.8,14.1],[480,8.5,3,14.4],[495,8.3,2.9,14],[510,8.5,3.1,14.3],[525,8.4,3,14.2],[540,8.7,3.2,14.5],
[555,8,2.9,13.1],[580,7.9,3.1,12.9],[605,8.1,2.8,13.2],[630,7.9,3,12.8],[655,8,3.2,13.1],[680,7.8,3,12.9],[705,7.9,3.1,13],[720,7.9,3.2,12.8],
[740,7.7,3.4,12.8],[770,7.8,3.3,12.6],[800,7.6,3.5,12.9],[830,7.8,3.4,12.6],[860,7.7,3.6,12.8],[900,7.7,3.5,12.5],
[930,7.6,3.6,12.3],[960,7.5,3.5,12.4],[990,7.6,3.7,12.2],[1020,7.5,3.6,12.3],[1050,7.4,3.7,12],[1080,7.5,3.8,12],
[1110,7.3,3.8,11.4],[1140,7.2,3.9,11.5],[1170,7.3,3.7,11.3],[1200,7.2,3.8,11.4],[1230,7.3,3.9,11.2],[1260,7.2,3.8,11.3],
[1290,7.2,3.8,11.2],[1320,7.1,3.9,11],[1350,7.2,3.7,11.3],[1380,7.1,3.8,11.1],[1410,7.2,3.9,11.2],[1440,7.3,3.8,11],
[1470,7.3,3.9,11.1],[1500,7.2,3.8,11],[1530,7.4,4,11.2],[1560,7.3,3.8,11],[1590,7.2,3.9,11.1],[1620,7.4,3.7,11],
[1650,7.2,3.6,10.9],[1680,7.3,3.7,11],[1710,7.2,3.6,10.8],[1740,7.4,3.7,11],[1770,7.3,3.6,10.8],[1800,7.3,3.7,10.9],
[1810,6.8,3.9,10.3],[1818,7.6,4.2,11.2],[1824,9,4.5,12.8],[1830,7.4,4.4,11],[1840,6.3,4,10],[1860,6,4.1,9.3],[1880,5.7,4.1,8.6],[1900,5.3,4,7.8],[1920,5.1,4.2,7.2],[1940,5,4.5,6.6],[1960,6.6,6,7.4],[1975,7.6,7.2,8.1],[1980,8.1,8.1,8.1],[2160,8.1,8.1,8.1]];

// ================= DRAWING =================
const svg = d3.select("#chart");
svg.append("rect").attr("width",2100).attr("height",2550).attr("fill","#fff");
const FONT = '"DejaVu Sans", Verdana, sans-serif';
const X0 = 83, X1 = 2078;
const TOPS = [51,481.7,912.4,1343.1,1773.8,2204.5];
const HS = [396.7,396.7,396.7,396.7,396.7,264.5];
const RED = "#ff0000", BLUE = "#0000ff";
const x = d3.scaleLinear().domain([-108,2268]).range([X0,X1]);
const defs = svg.append("defs");

// step-like series between two levels; a sample interval w separates the two states at a switch
function stateLine(t0,t1,toggles,s0,onV,offV,w){
  const out=[]; let s=s0;
  out.push([t0, s?onV:offV]);
  toggles.forEach(tt=>{ out.push([tt, s?onV:offV]); s=1-s; out.push([tt+w, s?onV:offV]); });
  out.push([t1, s?onV:offV]);
  return out;
}
const p4Tog = p4Flips.flat();
const p4RedAll = p4Red.concat(stateLine(901,1775,p4Tog,1,1,0,3.5).map(d=>[d[0],d[1],d[1]>.5?.985:0]));
const p4BlueAll = p4Blue.concat(stateLine(901,1775,p4Tog,1,.012,1,3.5).map(d=>[d[0],d[1],d[1]>.5?.985:.01]));
const p5RedAll = p5Red.concat(stateLine(541,852,p5Toggles,0,1,0,2.6).map(d=>[d[0],d[1],d[1]>.5?.97:0]));
const p5BlueAll = p5Blue.concat(stateLine(541,852,p5Toggles,0,0,1,2.6).map(d=>[d[0],d[1],d[1]>.5?.97:0]));
const p5LateTog = p5LateFlips.flat();
const p5RedDash = stateLine(852,p5BlueDrop,p5LateTog,0,1,0,3).concat([[2160,0]]);
const p5BlueDash = stateLine(852,p5BlueDrop,p5LateTog,0,0,1,3).concat([[p5BlueDrop+2,0],[2160,0]]);

function clipFor(i){
  const id="clip"+i;
  defs.append("clipPath").attr("id",id).append("rect")
    .attr("x",X0).attr("y",TOPS[i]).attr("width",X1-X0).attr("height",HS[i]);
  return "url(#"+id+")";
}
function gridAndRounds(g,i,y,ticks){
  const top=TOPS[i], h=HS[i];
  g.selectAll(null).data(ticks).enter().append("line")
    .attr("x1",X0).attr("x2",X1).attr("y1",d=>y(d)).attr("y2",d=>y(d))
    .attr("stroke","#e3e3e3").attr("stroke-width",1.4);
  g.selectAll(null).data(roundStarts).enter().append("line")
    .attr("x1",d=>x(d)).attr("x2",d=>x(d)).attr("y1",top).attr("y2",top+h)
    .attr("stroke","#707070").attr("stroke-width",1.3).attr("stroke-dasharray","1.6,2.9");
}
function roundText(g,i){
  const top=TOPS[i], h=HS[i];
  g.selectAll(null).data(roundStarts).enter().append("text")
    .attr("x",d=>x(d)+1.8).attr("y",top+0.0265*h+15.2)
    .attr("font-size",15.5).attr("fill","#5e5e5e")
    .text((d,k)=>roundLabels[k]);
}
function axes(i,y,ticks,fmt,showX){
  const top=TOPS[i], h=HS[i];
  const gy=svg.append("g").attr("transform","translate("+X0+",0)")
    .call(d3.axisLeft(y).tickValues(ticks).tickFormat(fmt).tickSize(7).tickPadding(7));
  gy.select(".domain").remove();
  gy.selectAll("line").attr("stroke","#222").attr("stroke-width",1.3);
  gy.selectAll("text").attr("font-size",14.5).attr("font-family",FONT).attr("fill","#111");
  const gx=svg.append("g").attr("transform","translate(0,"+(top+h)+")")
    .call(d3.axisBottom(x).tickValues(xTicks).tickFormat(showX?d3.format("d"):()=>"").tickSize(7).tickPadding(7));
  gx.select(".domain").remove();
  gx.selectAll("line").attr("stroke","#222").attr("stroke-width",1.3);
  gx.selectAll("text").attr("font-size",14.5).attr("font-family",FONT).attr("fill","#111");
  svg.append("rect").attr("x",X0).attr("y",top).attr("width",X1-X0).attr("height",h)
    .attr("fill","none").attr("stroke","#262626").attr("stroke-width",1.7);
}

function probPanel(i,red,blue,redDash,blueDash){
  const top=TOPS[i], h=HS[i];
  const y=d3.scaleLinear().domain([0,1.05]).range([top+h,top]);
  const g=svg.append("g");
  gridAndRounds(g,i,y,probTicks);
  const pg=g.append("g").attr("clip-path",clipFor(i));
  const area=d3.area().x(d=>x(d[0])).y0(d=>y(d[1])).y1(d=>y(d[2]));
  const lineS=d3.line().x(d=>x(d[0])).y(d=>y(d[1]));
  const lineD=d3.line().x(d=>x(d[0])).y(d=>y(d[2]));
  [[red,RED],[blue,BLUE]].forEach(([arr,col])=>{
    pg.append("path").datum(arr).attr("d",area).attr("fill",col).attr("fill-opacity",0.1);
    pg.append("path").datum(arr).attr("d",lineD).attr("fill","none").attr("stroke",col)
      .attr("stroke-opacity",0.55).attr("stroke-width",1.4).attr("stroke-dasharray","1.4,2.3");
  });
  [[red,RED],[blue,BLUE]].forEach(([arr,col])=>{
    pg.append("path").datum(arr).attr("d",lineS).attr("fill","none").attr("stroke",col)
      .attr("stroke-opacity",0.85).attr("stroke-width",2.3).attr("stroke-linejoin","round");
  });
  [[redDash,RED],[blueDash,BLUE]].forEach(([arr,col])=>{
    pg.append("path").datum(arr).attr("d",lineS).attr("fill","none").attr("stroke",col)
      .attr("stroke-opacity",0.85).attr("stroke-width",2.3).attr("stroke-dasharray","11,5");
  });
  roundText(g,i);
  axes(i,y,probTicks,d3.format(".1f"),false);
  svg.append("text").attr("transform","translate(30,"+(top+h/2)+") rotate(-90)")
    .attr("text-anchor","middle").attr("font-size",16).attr("fill","#111").text(targetLabels[i]);
}

probPanel(0,p1Red,p1Blue,p1RedDash,p1BlueDash);
probPanel(1,p2Red,p2Blue,p2RedDash,p2BlueDash);
probPanel(2,p3Red,p3Blue,p3RedDash,p3BlueDash);
probPanel(3,p4RedAll,p4BlueAll,p4RedDash,p4BlueDash);
probPanel(4,p5RedAll,p5BlueAll,p5RedDash,p5BlueDash);

// legend panel 1
(function(){
  const lg=svg.append("g");
  lg.append("rect").attr("x",1852.5).attr("y",59.5).attr("width",217.5).attr("height",48.5).attr("rx",3.5)
    .attr("fill","#fff").attr("fill-opacity",0.8).attr("stroke","#cccccc").attr("stroke-width",1.3);
  [[RED,71,fighters[0]],[BLUE,94,fighters[1]]].forEach(([c,yy,t])=>{
    lg.append("line").attr("x1",1858).attr("x2",1890).attr("y1",yy).attr("y2",yy)
      .attr("stroke",c).attr("stroke-opacity",0.85).attr("stroke-width",2.3);
    lg.append("text").attr("x",1900).attr("y",yy+5.2).attr("font-size",14.5).attr("fill","#111").text(t);
  });
})();

// count panel
(function(){
  const i=5, top=TOPS[i], h=HS[i];
  const y=d3.scaleLinear().domain([-1.46,30.66]).range([top+h,top]);
  const g=svg.append("g");
  gridAndRounds(g,i,y,countTicks);
  const pg=g.append("g").attr("clip-path",clipFor(i));
  const band=d3.area().x(d=>x(d[0])).y0(d=>y(d[2])).y1(d=>y(d[3]));
  const mean=d3.line().x(d=>x(d[0])).y(d=>y(d[1]));
  const tl=d3.line().x(d=>x(d[0])).y(d=>y(d[1]));
  pg.append("path").datum(truthRed).attr("d",tl).attr("fill","none").attr("stroke",RED).attr("stroke-opacity",0.75).attr("stroke-width",2.8);
  pg.append("path").datum(truthBlue).attr("d",tl).attr("fill","none").attr("stroke",BLUE).attr("stroke-opacity",0.75).attr("stroke-width",2.8);
  [[predRed,RED],[predBlue,BLUE]].forEach(([arr,col])=>{
    pg.append("path").datum(arr).attr("d",band).attr("fill",col).attr("fill-opacity",0.14)
      .attr("stroke",col).attr("stroke-opacity",0.1).attr("stroke-width",1.2);
    pg.append("path").datum(arr).attr("d",mean).attr("fill","none").attr("stroke",col)
      .attr("stroke-opacity",0.6).attr("stroke-width",2.8).attr("stroke-dasharray","2.6,4.2");
  });
  roundText(g,i);
  axes(i,y,countTicks,d3.format("d"),true);
  svg.append("text").attr("transform","translate(39,"+(top+h/2)+") rotate(-90)")
    .attr("text-anchor","middle").attr("font-size",16).attr("fill","#111").text("Count");
  // legend (drawn over the faded R1/R2 labels, as in the source)
  const lg=svg.append("g");
  lg.append("rect").attr("x",91.5).attr("y",2211).attr("width",322.5).attr("height",94).attr("rx",3.5)
    .attr("fill","#fff").attr("fill-opacity",0.85).attr("stroke","#cccccc").attr("stroke-width",1.3);
  const styles=[[RED,0.75,null],[BLUE,0.75,null],[RED,0.6,"2.6,4.2"],[BLUE,0.6,"2.6,4.2"]];
  legendCount.forEach((t,k)=>{
    const yy=2223.5+k*22.4;
    const ln=lg.append("line").attr("x1",96).attr("x2",129).attr("y1",yy).attr("y2",yy)
      .attr("stroke",styles[k][0]).attr("stroke-opacity",styles[k][1]).attr("stroke-width",2.8);
    if(styles[k][2]) ln.attr("stroke-dasharray",styles[k][2]);
    lg.append("text").attr("x",137).attr("y",yy+5.2).attr("font-size",14.5).attr("fill","#111").text(t);
  });
})();

// title and x label
svg.append("text").attr("x",(X0+X1)/2).attr("y",36.5).attr("text-anchor","middle")
  .attr("font-size",20.8).attr("fill","#111").text(chartTitle);
svg.append("text").attr("x",(X0+X1)/2).attr("y",2523).attr("text-anchor","middle")
  .attr("font-size",20.8).attr("fill","#111").text("Fight time (seconds)");
</script>
</body>
</html>
